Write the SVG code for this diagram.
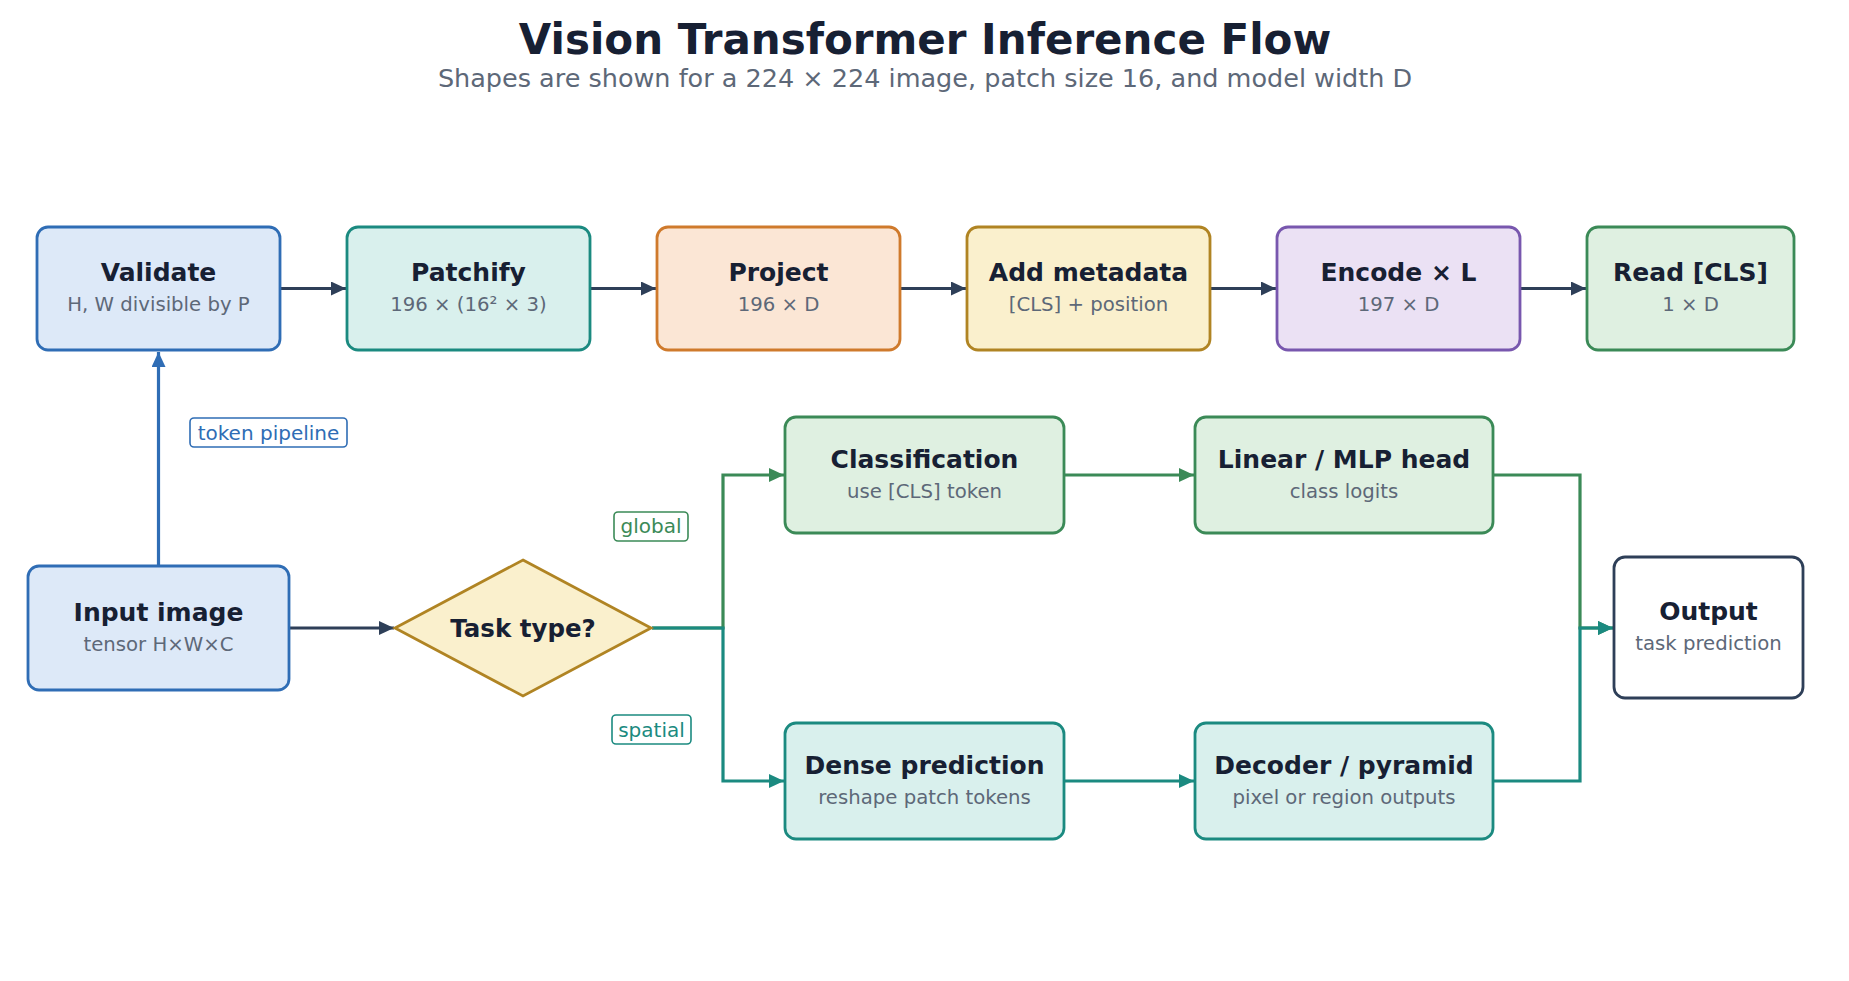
<svg xmlns="http://www.w3.org/2000/svg" width="1849" height="981" viewBox="0 0 1849 981">
<defs>
<style>
text{font-family:"DejaVu Sans","Liberation Sans",sans-serif;text-anchor:middle}
.title{font-size:42px;font-weight:bold;fill:#172033}
.subtitle{font-size:25.5px;fill:#5d6878}
.nt{font-size:25px;font-weight:bold;fill:#172033}
.ns{font-size:19.7px;fill:#5d6878}
.lbl{font-size:20px}
.box{stroke-width:2.8}
.blue{fill:#dde9f8;stroke:#2f6db5}
.teal{fill:#d9f0ed;stroke:#1b8a80}
.orange{fill:#fbe6d5;stroke:#cf7a2c}
.gold{fill:#faf0cd;stroke:#b08423}
.purple{fill:#ebe1f4;stroke:#7857ae}
.green{fill:#dff0e1;stroke:#3b8a57}
.white{fill:#ffffff;stroke:#2e3f58}
.c{fill:none;stroke-width:3.2}
.cd{stroke:#2e3f58}
.cb{stroke:#2f6db5}
.cg{stroke:#3b8a57}
.ct{stroke:#1b8a80}
.lb{fill:#ffffff;stroke-width:1.6}
</style>
<marker id="ad" markerUnits="userSpaceOnUse" markerWidth="15" markerHeight="14" refX="15" refY="7" orient="auto"><path d="M0,0 L15,7 L0,14 z" fill="#2e3f58"/></marker>
<marker id="ab" markerUnits="userSpaceOnUse" markerWidth="15" markerHeight="14" refX="15" refY="7" orient="auto"><path d="M0,0 L15,7 L0,14 z" fill="#2f6db5"/></marker>
<marker id="ag" markerUnits="userSpaceOnUse" markerWidth="15" markerHeight="14" refX="15" refY="7" orient="auto"><path d="M0,0 L15,7 L0,14 z" fill="#3b8a57"/></marker>
<marker id="at" markerUnits="userSpaceOnUse" markerWidth="15" markerHeight="14" refX="15" refY="7" orient="auto"><path d="M0,0 L15,7 L0,14 z" fill="#1b8a80"/></marker>
</defs>
<rect width="1849" height="981" fill="#ffffff"/>
<text class="title" x="925" y="54">Vision Transformer Inference Flow</text>
<text class="subtitle" x="925" y="87">Shapes are shown for a 224 × 224 image, patch size 16, and model width D</text>

<g id="connectors">
<path class="c cd" d="M281 288.5 H346" marker-end="url(#ad)"/>
<path class="c cd" d="M591 288.5 H656" marker-end="url(#ad)"/>
<path class="c cd" d="M901 288.5 H966" marker-end="url(#ad)"/>
<path class="c cd" d="M1211 288.5 H1276" marker-end="url(#ad)"/>
<path class="c cd" d="M1521 288.5 H1586" marker-end="url(#ad)"/>
<path class="c cb" d="M158.5 565 V352" marker-end="url(#ab)"/>
<path class="c cd" d="M290 628 H394" marker-end="url(#ad)"/>
<path class="c cg" d="M652 628 H723 V475 H784" marker-end="url(#ag)"/>
<path class="c ct" d="M652 628 H723 V781 H784" marker-end="url(#at)"/>
<path class="c cg" d="M1065 475 H1194" marker-end="url(#ag)"/>
<path class="c ct" d="M1065 781 H1194" marker-end="url(#at)"/>
<path class="c cg" d="M1494 475 H1580 V628 H1613" marker-end="url(#ag)"/>
<path class="c ct" d="M1494 781 H1580 V628 H1613" marker-end="url(#at)"/>
<g id="label-token">
<rect class="lb cb" x="190" y="418" width="157" height="29" rx="4"/>
<text class="lbl" x="268.5" y="440" fill="#2f6db5">token pipeline</text>
</g>
<g id="label-global">
<rect class="lb cg" x="614" y="512" width="74" height="29" rx="4"/>
<text class="lbl" x="651" y="533" fill="#3b8a57">global</text>
</g>
<g id="label-spatial">
<rect class="lb ct" x="612" y="715" width="79" height="29" rx="4"/>
<text class="lbl" x="651.5" y="737" fill="#1b8a80">spatial</text>
</g>
</g>

<g id="validate">
<rect class="box blue" x="37" y="227" width="243" height="123" rx="11"/>
<text class="nt" x="158.5" y="281">Validate</text>
<text class="ns" x="158.5" y="311">H, W divisible by P</text>
</g>
<g id="patchify">
<rect class="box teal" x="347" y="227" width="243" height="123" rx="11"/>
<text class="nt" x="468.5" y="281">Patchify</text>
<text class="ns" x="468.5" y="311">196 × (16² × 3)</text>
</g>
<g id="project">
<rect class="box orange" x="657" y="227" width="243" height="123" rx="11"/>
<text class="nt" x="778.5" y="281">Project</text>
<text class="ns" x="778.5" y="311">196 × D</text>
</g>
<g id="add-metadata">
<rect class="box gold" x="967" y="227" width="243" height="123" rx="11"/>
<text class="nt" x="1088.5" y="281">Add metadata</text>
<text class="ns" x="1088.5" y="311">[CLS] + position</text>
</g>
<g id="encode">
<rect class="box purple" x="1277" y="227" width="243" height="123" rx="11"/>
<text class="nt" x="1398.5" y="281">Encode × L</text>
<text class="ns" x="1398.5" y="311">197 × D</text>
</g>
<g id="read-cls">
<rect class="box green" x="1587" y="227" width="207" height="123" rx="11"/>
<text class="nt" x="1690.5" y="281">Read [CLS]</text>
<text class="ns" x="1690.5" y="311">1 × D</text>
</g>
<g id="input-image">
<rect class="box blue" x="28" y="566" width="261" height="124" rx="11"/>
<text class="nt" x="158.5" y="621">Input image</text>
<text class="ns" x="158.5" y="651">tensor H×W×C</text>
</g>
<g id="task-type">
<polygon class="box gold" points="523,560 651,628 523,696 395,628"/>
<text class="nt" x="523" y="637" style="font-size:24.5px">Task type?</text>
</g>
<g id="classification">
<rect class="box green" x="785" y="417" width="279" height="116" rx="11"/>
<text class="nt" x="924.5" y="468">Classification</text>
<text class="ns" x="924.5" y="498">use [CLS] token</text>
</g>
<g id="linear-head">
<rect class="box green" x="1195" y="417" width="298" height="116" rx="11"/>
<text class="nt" x="1344" y="468">Linear / MLP head</text>
<text class="ns" x="1344" y="498">class logits</text>
</g>
<g id="dense-prediction">
<rect class="box teal" x="785" y="723" width="279" height="116" rx="11"/>
<text class="nt" x="924.5" y="774">Dense prediction</text>
<text class="ns" x="924.5" y="804">reshape patch tokens</text>
</g>
<g id="decoder">
<rect class="box teal" x="1195" y="723" width="298" height="116" rx="11"/>
<text class="nt" x="1344" y="774">Decoder / pyramid</text>
<text class="ns" x="1344" y="804">pixel or region outputs</text>
</g>
<g id="output">
<rect class="box white" x="1614" y="557" width="189" height="141" rx="11"/>
<text class="nt" x="1708.5" y="620">Output</text>
<text class="ns" x="1708.5" y="650">task prediction</text>
</g>
</svg>
